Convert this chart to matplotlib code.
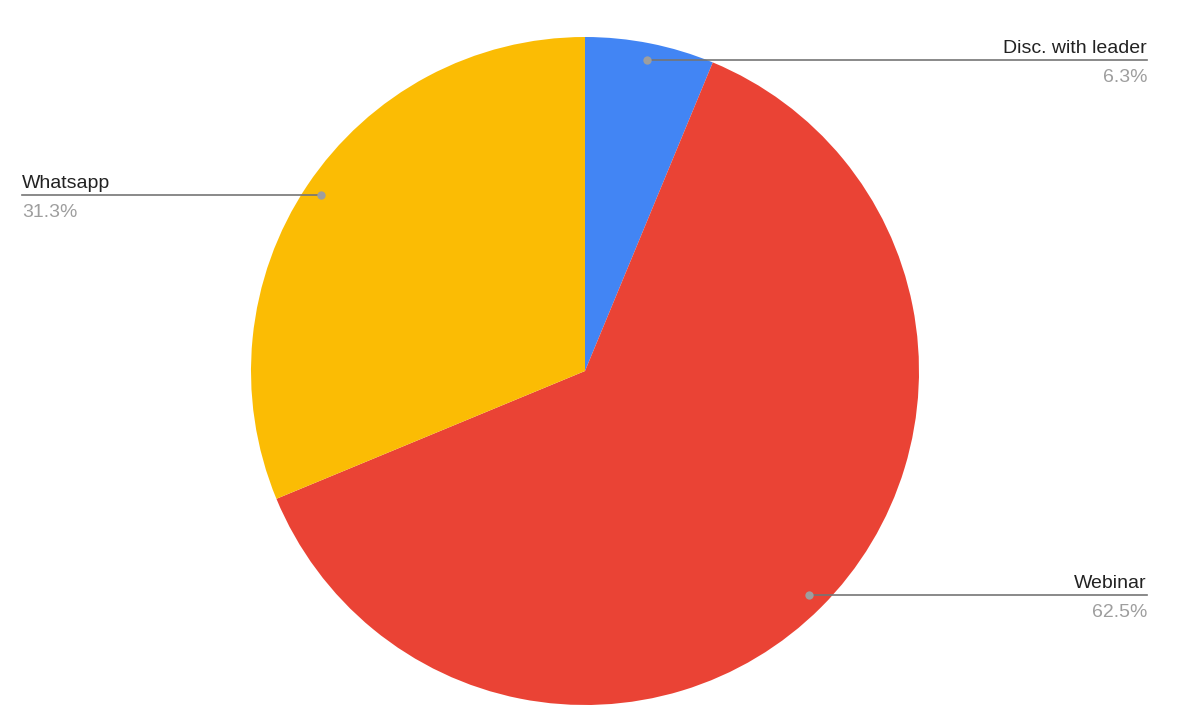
import numpy as np
import matplotlib.pyplot as plt

# data
labels = ["Disc. with leader", "Webinar", "Whatsapp"]
values = [1, 10, 5]
colors = ["#4285F4", "#EA4335", "#FBBC04"]

W, H = 1199, 713
fig = plt.figure(figsize=(W / 100, H / 100), dpi=100)
ax = fig.add_axes([0, 0, 1, 1])

cx, cy, r = 585, H - 371, 334
wedges, _ = ax.pie(values, colors=colors, startangle=90, counterclock=False,
                   center=(cx, cy), radius=r, wedgeprops=dict(linewidth=0))

ax.set_xlim(0, W)
ax.set_ylim(0, H)
ax.set_aspect("equal")
ax.axis("off")

total = sum(values)
font = ["Liberation Sans", "DejaVu Sans"]
for w, lab, v in zip(wedges, labels, values):
    ang = np.deg2rad((w.theta1 + w.theta2) / 2)
    dx, dy = cx + 0.95 * r * np.cos(ang), cy + 0.95 * r * np.sin(ang)
    right = np.cos(ang) > 0
    xe = 1147 if right else 22
    ha = "right" if right else "left"
    ax.plot([dx, xe], [dy, dy], color="#757575", lw=1.2, zorder=3)
    ax.plot(dx, dy, "o", color="#9E9E9E", ms=6, mec="none", zorder=4)
    pct = np.floor(v / total * 1000 + 0.5) / 10  # round half up like sheets
    ax.text(xe, dy + 7, lab, ha=ha, va="baseline", fontsize=14,
            color="#222222", family=font)
    ax.text(xe, dy - 9, f"{pct:.1f}%", ha=ha, va="top",
            fontsize=14, color="#9E9E9E", family=font)

fig.savefig("out.png", dpi=100)
